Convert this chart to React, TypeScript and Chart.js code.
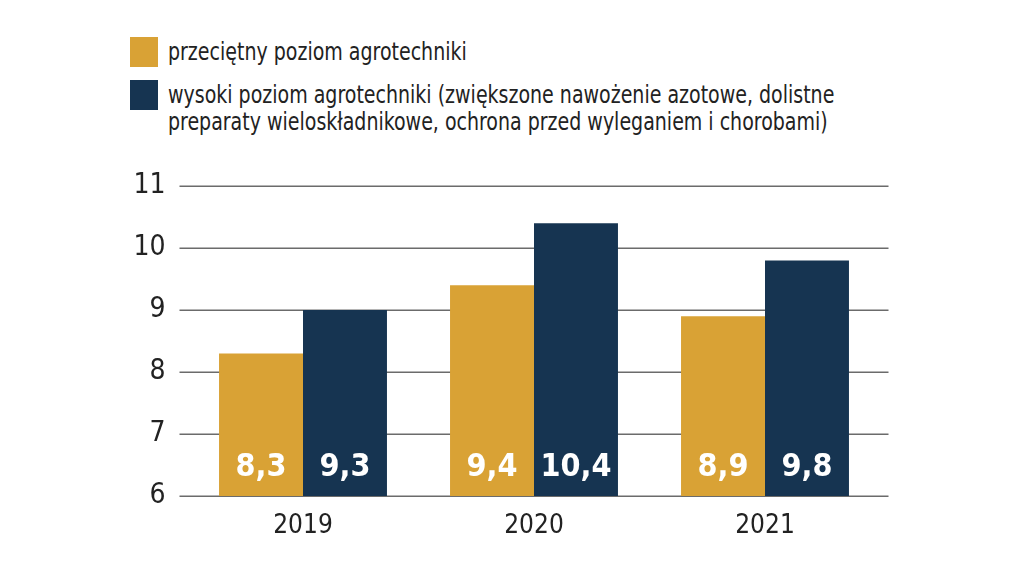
import React, { useEffect, useRef } from "react";
import { Chart, registerables } from "chart.js";

Chart.register(...registerables);

const categories = ["2019", "2020", "2021"];
const seriesNames = [
  "przeciętny poziom agrotechniki",
  "wysoki poziom agrotechniki (zwiększone nawożenie azotowe, dolistne preparaty wieloskładnikowe, ochrona przed wyleganiem i chorobami)",
];
const averageValues = [8.3, 9.4, 8.9];
const highValues = [9.0, 10.4, 9.8];
const averageLabels = ["8,3", "9,4", "8,9"];
const highLabels = ["9,3", "10,4", "9,8"];
const yTicks = [6, 7, 8, 9, 10, 11];

const GOLD = "#D9A235";
const NAVY = "#163451";
const NARROW = "'DejaVu Sans Condensed', 'DejaVu Sans', sans-serif";

const gridPlugin = {
  id: "extGrid",
  beforeDatasetsDraw(chart: any) {
    const { ctx, chartArea, scales } = chart;
    ctx.save();
    ctx.strokeStyle = "#6b6b6b";
    ctx.lineWidth = 1.5;
    yTicks.forEach((v) => {
      const y = Math.round(scales.y.getPixelForValue(v)) + 0.25;
      ctx.beginPath();
      ctx.moveTo(chartArea.left - 8, y);
      ctx.lineTo(chartArea.right + 8, y);
      ctx.stroke();
    });
    ctx.restore();
  },
};

const labelPlugin = {
  id: "barValueLabels",
  afterDraw(chart: any) {
    const { ctx, scales } = chart;
    const labelSets = [averageLabels, highLabels];
    const baseY = scales.y.getPixelForValue(6);
    ctx.save();
    ctx.fillStyle = "#ffffff";
    ctx.font = "bold 32px 'DejaVu Sans Condensed', 'DejaVu Sans', sans-serif";
    ctx.textAlign = "center";
    ctx.textBaseline = "middle";
    for (let di = 0; di < 2; di++) {
      const meta = chart.getDatasetMeta(di);
      meta.data.forEach((bar: any, i: number) => {
        const p = bar.getProps(["x"], true);
        ctx.fillText(labelSets[di][i], p.x, baseY - 28);
      });
    }
    ctx.restore();
  },
};

function Legend() {
  const lineStyle: React.CSSProperties = {
    fontFamily: NARROW,
    fontSize: 24,
    lineHeight: "27px",
    color: "#222",
    whiteSpace: "nowrap",
    transform: "scaleX(0.88)",
    transformOrigin: "left top",
  };
  return (
    <>
      <div style={{ position: "absolute", left: 130, top: 37, width: 28, height: 30, background: GOLD }} />
      <div style={{ position: "absolute", left: 168, top: 39, ...lineStyle }}>{seriesNames[0]}</div>
      <div style={{ position: "absolute", left: 130, top: 80, width: 28, height: 30, background: NAVY }} />
      <div style={{ position: "absolute", left: 168, top: 82, ...lineStyle }}>
        wysoki poziom agrotechniki (zwiększone nawożenie azotowe, dolistne
        <br />
        preparaty wieloskładnikowe, ochrona przed wyleganiem i chorobami)
      </div>
    </>
  );
}

export default function App() {
  const ref = useRef<HTMLCanvasElement | null>(null);

  useEffect(() => {
    document.body.style.margin = "0";
    if (!ref.current) return;
    const chart = new Chart(ref.current, {
      type: "bar",
      data: {
        labels: categories,
        datasets: [
          {
            label: seriesNames[0],
            data: averageValues,
            backgroundColor: GOLD,
            categoryPercentage: 0.727,
            barPercentage: 1,
          },
          {
            label: seriesNames[1],
            data: highValues,
            backgroundColor: NAVY,
            categoryPercentage: 0.727,
            barPercentage: 1,
          },
        ],
      },
      options: {
        animation: false,
        responsive: false,
        devicePixelRatio: 1,
        layout: { padding: { top: 186, right: 143.5, left: 0, bottom: 0 } },
        plugins: { legend: { display: false }, tooltip: { enabled: false } },
        scales: {
          x: {
            grid: { display: false },
            border: { display: false },
            ticks: {
              color: "#222",
              font: { family: NARROW, size: 26 },
              padding: 7,
            },
            afterFit: (scale: any) => {
              scale.height = 72;
            },
          },
          y: {
            min: 6,
            max: 11,
            grid: { display: false },
            border: { display: false },
            ticks: {
              stepSize: 1,
              color: "#222",
              font: { family: NARROW, size: 28 },
              padding: 14,
            },
            afterFit: (scale: any) => {
              scale.width = 187.5;
            },
          },
        },
      },
      plugins: [gridPlugin, labelPlugin],
    });
    return () => chart.destroy();
  }, []);

  return (
    <div style={{ position: "relative", width: 1024, height: 568, background: "#fff" }}>
      <Legend />
      <canvas ref={ref} width={1024} height={568} style={{ position: "absolute", left: 0, top: 0 }} />
    </div>
  );
}
